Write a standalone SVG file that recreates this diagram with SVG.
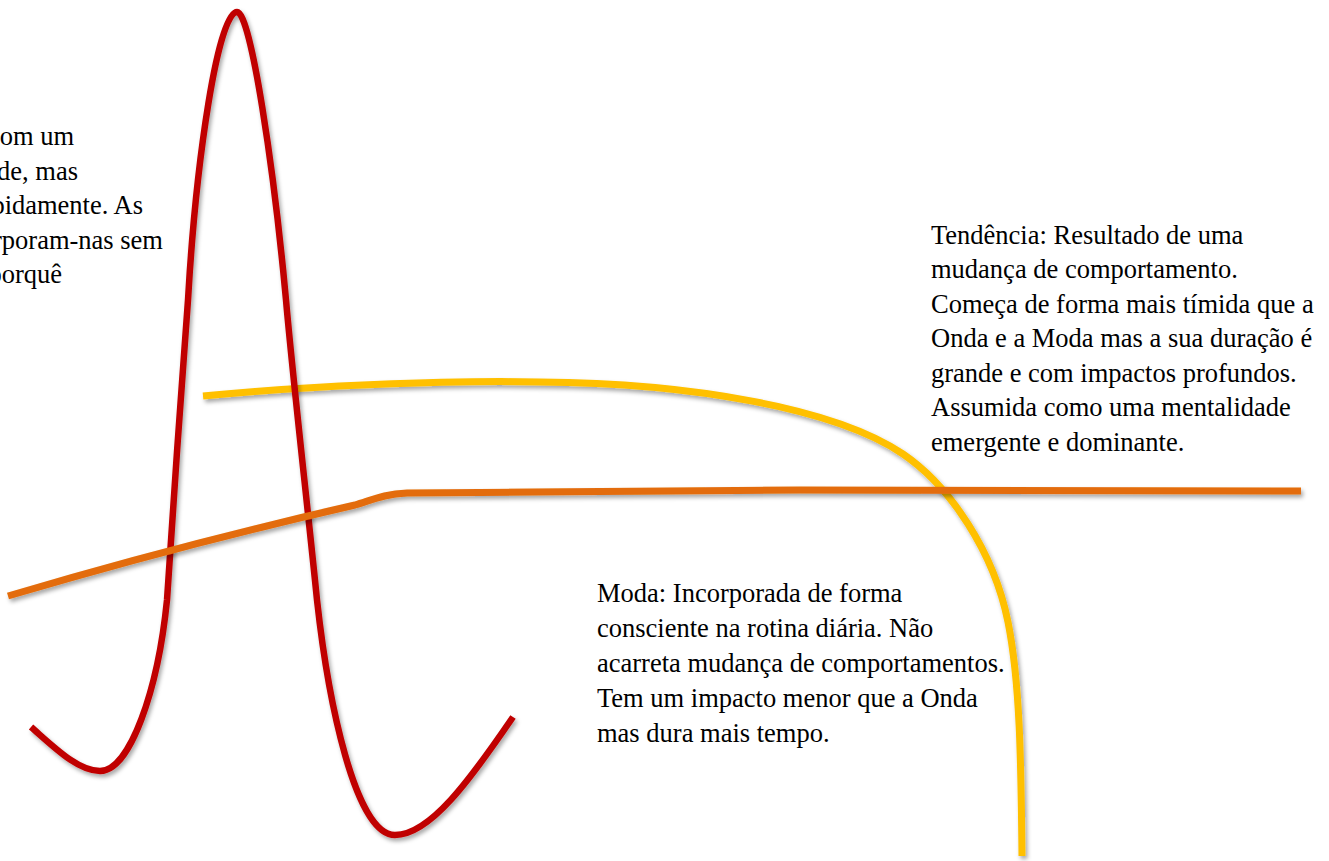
<svg xmlns="http://www.w3.org/2000/svg" width="1329" height="861" viewBox="0 0 1329 861">
<defs>
<style>
.t{font-family:"Liberation Serif","Times New Roman",serif;font-size:26.5px;fill:#000}
.c{fill:none;stroke-linecap:butt;stroke-linejoin:round;filter:url(#sh)}
</style>
<filter id="sh" x="-10%" y="-10%" width="120%" height="120%">
<feDropShadow dx="2" dy="3" stdDeviation="2" flood-color="#000" flood-opacity="0.35"/>
</filter>
</defs>
<rect width="1329" height="861" fill="#fff"/>
<g id="curves">
<path id="tendencia-curve" class="c" stroke="#FFC000" stroke-width="7" d="M203,396 C300,386 450,380 540,382 C690,383 835,408 903,454 C950,486 994,552 1008,622 C1020,682 1021,760 1022,856"/>
<path id="onda-curve" class="c" stroke="#C00000" stroke-width="6.5" d="M31,727 C55,748 78,771 100,771 C130,771 158,690 167,600 C172,520 182,380 188,300 C196,160 218,12 237,12 C251,12 274,170 286,300 C293,380 308,510 317,600 C328,700 355,835 395,835 C430,835 470,780 513,717"/>
<path id="moda-curve" class="c" stroke="#E36C09" stroke-width="7" d="M8,596 Q180,545 355,505 C372,500 384,494 407,493 L800,490 L1301,491"/>
</g>
<g id="onda-text">
<text class="t" text-anchor="end"><tspan x="74" y="145">om um</tspan><tspan x="78" y="179.6">de, mas</tspan><tspan x="143" y="214.2">pidamente. As</tspan><tspan x="163" y="248.8">rporam-nas sem</tspan><tspan x="62" y="283.4">porquê</tspan></text>
</g>
<g id="tendencia-text">
<text class="t"><tspan x="931" y="243.5">Tendência: Resultado de uma</tspan><tspan x="931" y="278">mudança de comportamento.</tspan><tspan x="931" y="312.5">Começa de forma mais tímida que a</tspan><tspan x="931" y="347">Onda e a Moda mas a sua duração é</tspan><tspan x="931" y="381.5">grande e com impactos profundos.</tspan><tspan x="931" y="416">Assumida como uma mentalidade</tspan><tspan x="931" y="450.5">emergente e dominante.</tspan></text>
</g>
<g id="moda-text">
<text class="t"><tspan x="597" y="602">Moda: Incorporada de forma</tspan><tspan x="597" y="637">consciente na rotina diária. Não</tspan><tspan x="597" y="672">acarreta mudança de comportamentos.</tspan><tspan x="597" y="707">Tem um impacto menor que a Onda</tspan><tspan x="597" y="742">mas dura mais tempo.</tspan></text>
</g>
</svg>
